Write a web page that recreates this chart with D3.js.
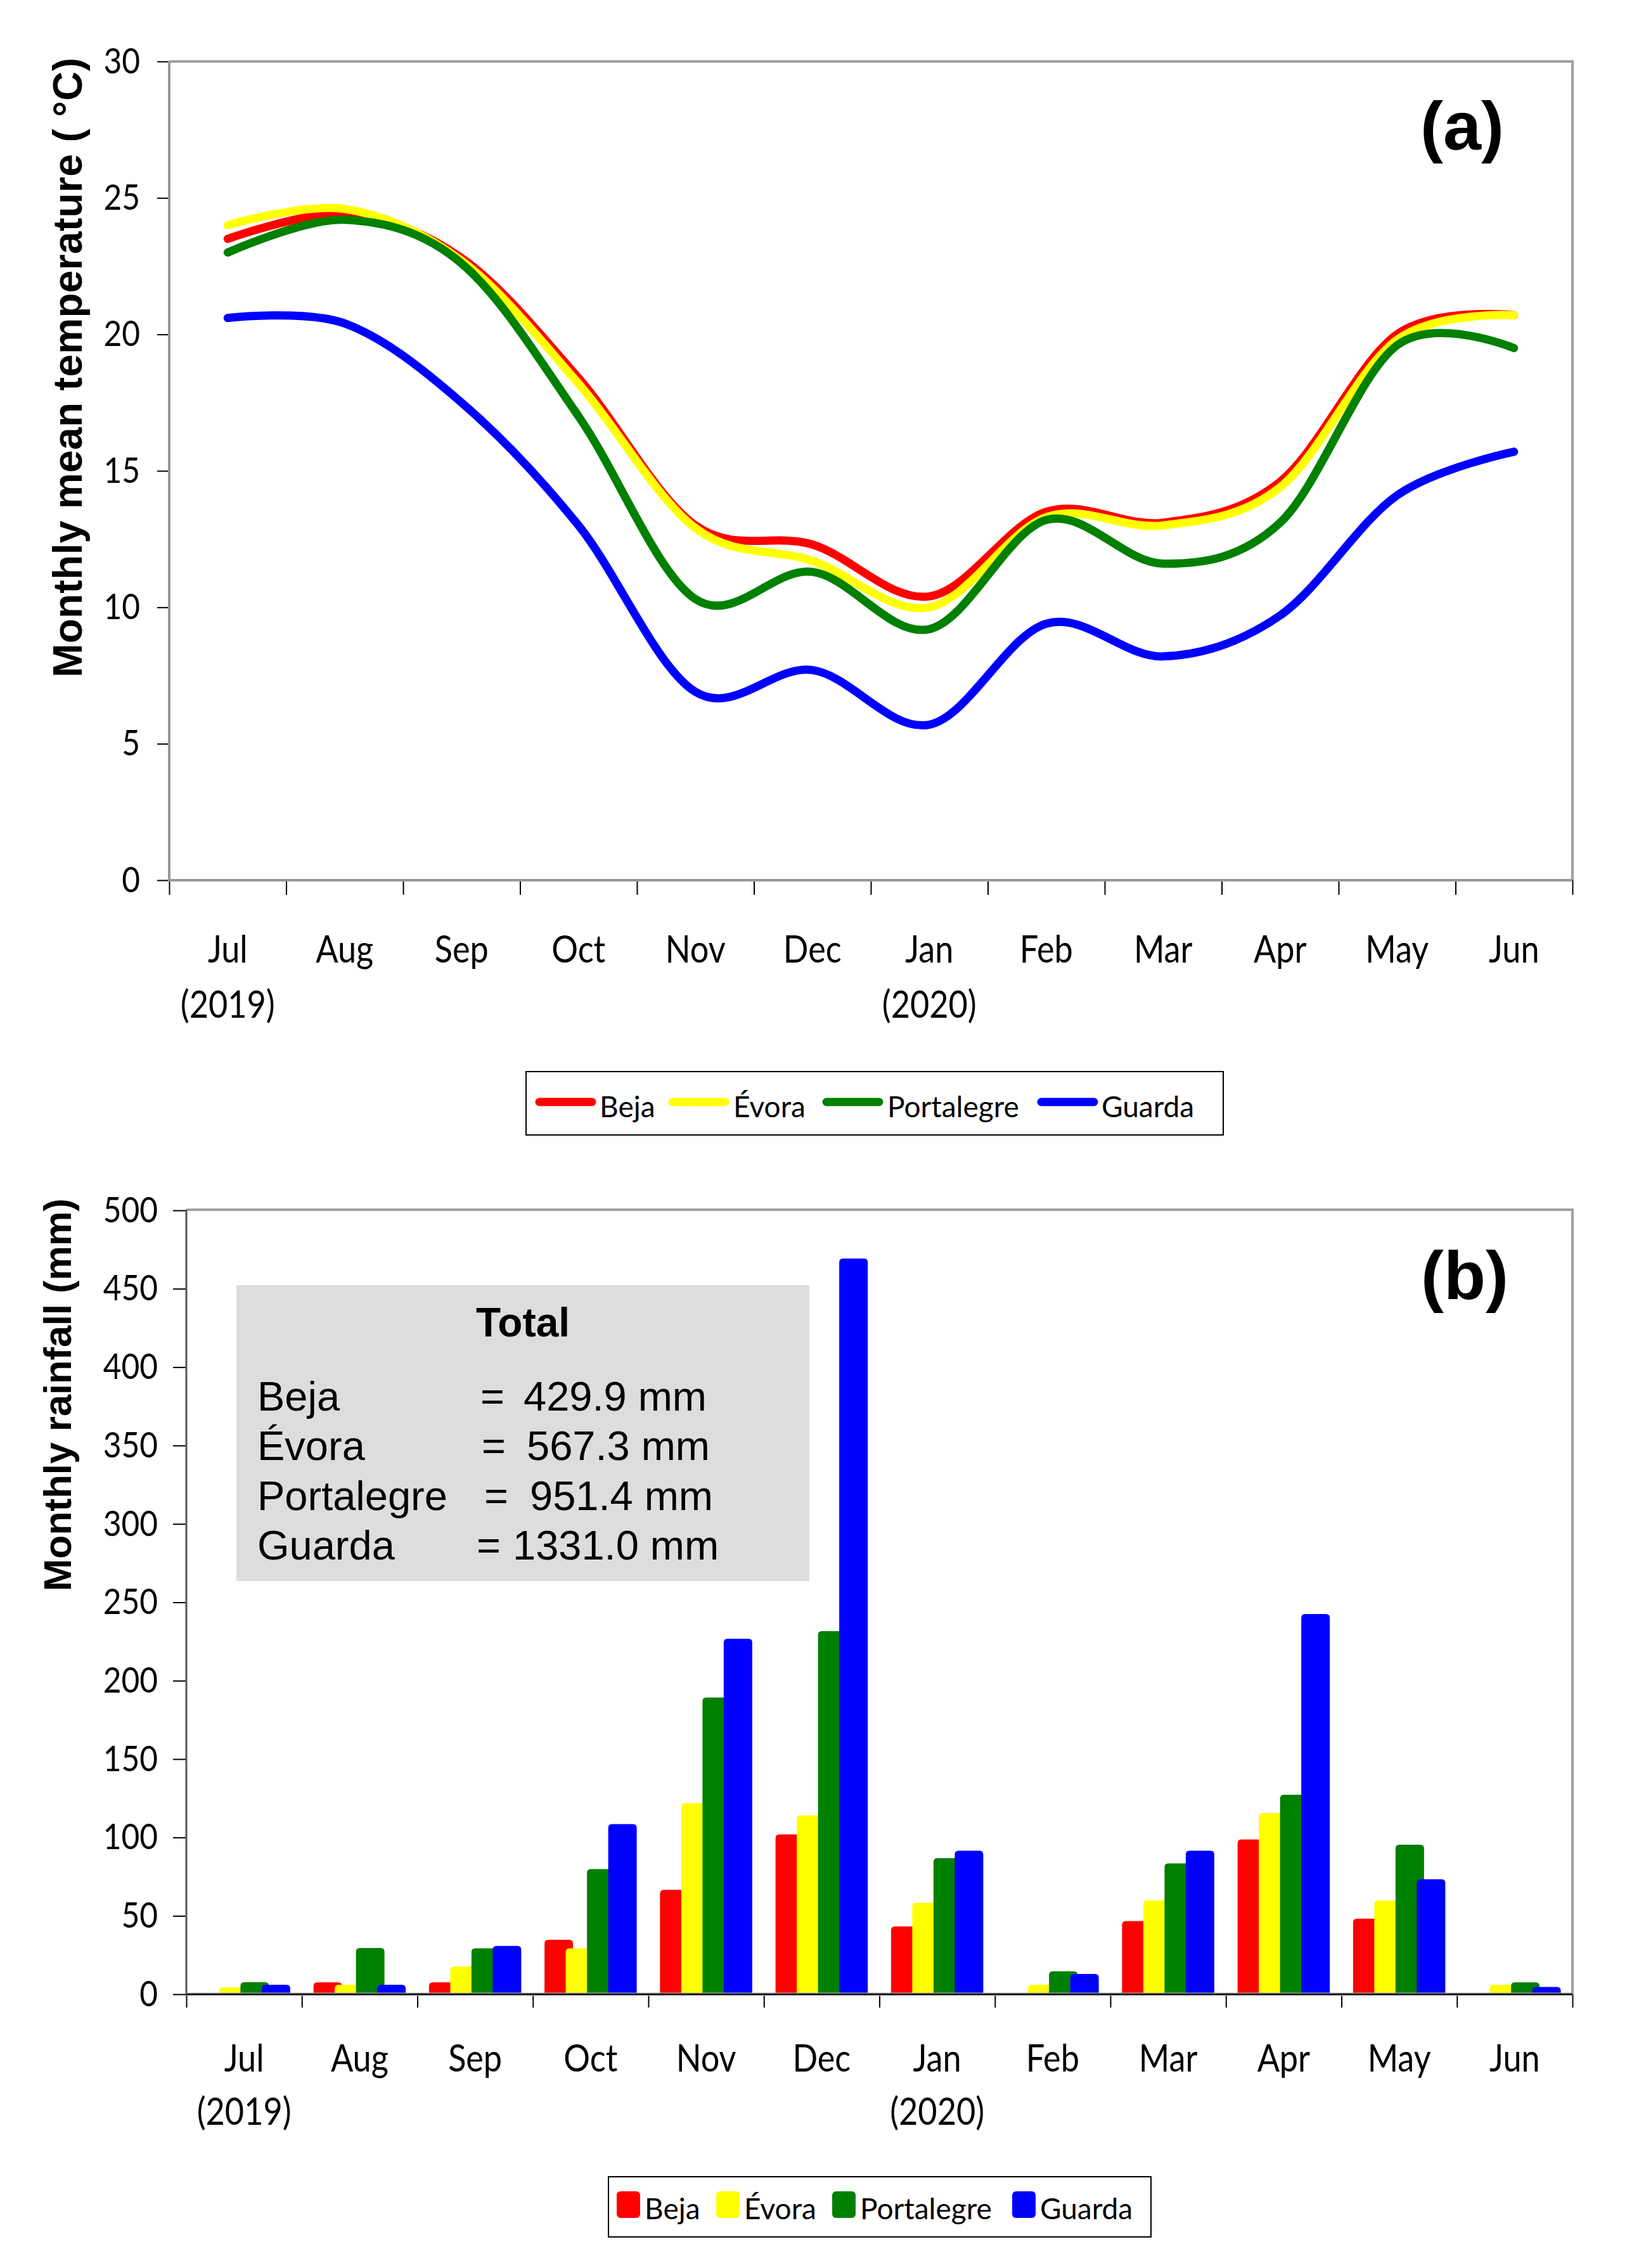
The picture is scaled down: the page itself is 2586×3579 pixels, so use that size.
<!DOCTYPE html>
<html>
<head>
<meta charset="utf-8">
<script src="https://cdn.jsdelivr.net/npm/d3@7"></script>
<style>
  body { margin: 0; background: #fff; }
</style>
</head>
<body>
<div id="chart"></div>
<script>
// ---- data ----
var months = ["Jul", "Aug", "Sep", "Oct", "Nov", "Dec", "Jan", "Feb", "Mar", "Apr", "May", "Jun"];
var yearLabels = [{month: "Jul", text: "(2019)"}, {month: "Jan", text: "(2020)"}];
var stations = ["Beja", "Évora", "Portalegre", "Guarda"];
var colors = ["#FF0000", "#FFFF00", "#008000", "#0000FF"];

// (a) monthly mean temperature (°C)
var tempBeja       = [23.5, 24.4, 22.8, 18.4, 13.0, 12.3, 10.4, 13.5, 13.1, 14.6, 20.0, 20.7];
var tempEvora      = [24.0, 24.6, 22.7, 18.2, 12.9, 11.7, 10.0, 13.3, 13.0, 14.4, 19.8, 20.7];
var tempPortalegre = [23.0, 24.2, 22.6, 17.0, 10.3, 11.3,  9.2, 13.2, 11.6, 13.1, 19.6, 19.5];
var tempGuarda     = [20.6, 20.4, 17.5, 13.0,  6.9,  7.7,  5.7,  9.4,  8.2,  9.7, 14.1, 15.7];

// (b) monthly rainfall (mm)
var rainBeja       = [0,   7.6,  7.6, 34.8,  66.6, 102.0, 43.2,  0,   46.7,  98.7, 48.2, 0];
var rainEvora      = [4.4, 6.1, 17.7, 29.3, 121.9, 114.1, 58.3,  6.1, 59.8, 115.6, 59.8, 6.1];
var rainPortalegre = [7.7, 29.5, 29.3, 79.8, 189.3, 231.6, 86.8, 14.7, 83.5, 127.2, 95.4, 7.6];
var rainGuarda     = [6.1, 6.1, 30.8, 108.5, 226.8, 469.3, 91.6, 12.9, 91.6, 242.5, 73.4, 4.6];
var rainTotals     = ["429.9", "567.3", "951.4", "1331.0"];

var tempTicks = [0, 5, 10, 15, 20, 25, 30];
var rainTicks = [0, 50, 100, 150, 200, 250, 300, 350, 400, 450, 500];

var tempSeries = [tempBeja, tempEvora, tempPortalegre, tempGuarda];
var rainSeries = [rainBeja, rainEvora, rainPortalegre, rainGuarda];

// ---- svg ----
var svg = d3.select("#chart").append("svg")
  .attr("width", 2586)
  .attr("height", 3579)
  .style("background", "#fff");

var tickFont = "Lato, 'Open Sans', sans-serif";
var titleFont = "'Liberation Sans', Arial, sans-serif";
var sx = 0.87;  // tick labels are a narrow face

// ================= Part (a): temperature =================
var A = {left: 267, right: 2481, top: 97, bottom: 1389};
var xA = d3.scaleLinear().domain([0, 12]).range([A.left, A.right]);
var yA = d3.scaleLinear().domain([0, 30]).range([A.bottom, A.top]);

// frame top / right
svg.append("path")
  .attr("d", `M${A.left},${A.top}H${A.right}V${A.bottom}`)
  .attr("fill", "none").attr("stroke", "#A0A0A0").attr("stroke-width", 4);

// lines
var lineA = d3.line()
  .x((d, i) => xA(i + 0.5))
  .y(d => yA(d))
  .curve(d3.curveCardinal.tension(0));

svg.selectAll(".tline")
  .data(tempSeries)
  .enter()
  .append("path")
  .attr("class", "tline")
  .attr("d", d => lineA(d))
  .attr("fill", "none")
  .attr("stroke", (d, i) => colors[i])
  .attr("stroke-width", 13)
  .attr("stroke-linecap", "round")
  .attr("stroke-linejoin", "round");

// y axis
var yAxisA = svg.append("g")
  .attr("transform", `translate(${A.left},0)`)
  .call(d3.axisLeft(yA).tickValues(tempTicks).tickSize(19).tickPadding(27));
yAxisA.select(".domain").remove();
yAxisA.selectAll(".tick line").attr("stroke", "#000").attr("stroke-width", 2);
yAxisA.selectAll(".tick text")
  .attr("x", -46 / sx)
  .attr("transform", `scale(${sx},1)`)
  .attr("font-family", tickFont)
  .attr("font-size", 57)
  .attr("fill", "#000");

// x axis ticks at month boundaries
var xAxisA = svg.append("g")
  .attr("transform", `translate(0,${A.bottom})`)
  .call(d3.axisBottom(xA).tickValues(d3.range(13)).tickSize(23).tickFormat(""));
xAxisA.select(".domain").remove();
xAxisA.selectAll(".tick line").attr("stroke", "#000").attr("stroke-width", 2);

// axis lines
svg.append("path")
  .attr("d", `M${A.left},${A.top}V${A.bottom}H${A.right}`)
  .attr("fill", "none").attr("stroke", "#999").attr("stroke-width", 4);

// month labels
svg.selectAll(".mA")
  .data(months)
  .enter()
  .append("text")
  .attr("class", "mA")
  .attr("transform", (d, i) => `translate(${xA(i + 0.5)},1519) scale(${sx},1)`)
  .attr("text-anchor", "middle")
  .attr("font-family", tickFont)
  .attr("font-size", 60)
  .text(d => d);

svg.selectAll(".yrA")
  .data(yearLabels)
  .enter()
  .append("text")
  .attr("class", "yrA")
  .attr("transform", d => `translate(${xA(months.indexOf(d.month) + 0.5)},1606) scale(${sx},1)`)
  .attr("text-anchor", "middle")
  .attr("font-family", tickFont)
  .attr("font-size", 60)
  .text(d => d.text);

// y title
svg.append("text")
  .attr("transform", "translate(129,580) rotate(-90)")
  .attr("text-anchor", "middle")
  .attr("font-family", titleFont)
  .attr("font-weight", "bold")
  .attr("font-size", 64)
  .attr("textLength", 978)
  .attr("lengthAdjust", "spacing")
  .text("Monthly mean temperature ( °C)");

// panel tag
svg.append("text")
  .attr("x", 2307).attr("y", 236)
  .attr("text-anchor", "middle")
  .attr("font-family", titleFont)
  .attr("font-weight", "bold")
  .attr("font-size", 108)
  .text("(a)");

// legend (a)
var legA = svg.append("g");
legA.append("rect")
  .attr("x", 830).attr("y", 1691).attr("width", 1100).attr("height", 100)
  .attr("fill", "#fff").attr("stroke", "#000").attr("stroke-width", 2);
var legAx = [851, 1061, 1304, 1643];
var legAt = [946, 1157, 1400, 1738];
stations.forEach(function (s, i) {
  legA.append("line")
    .attr("x1", legAx[i]).attr("x2", legAx[i] + 83)
    .attr("y1", 1739).attr("y2", 1739)
    .attr("stroke", colors[i]).attr("stroke-width", 13)
    .attr("stroke-linecap", "round");
  legA.append("text")
    .attr("x", legAt[i]).attr("y", 1763)
    .attr("font-family", tickFont)
    .attr("font-size", 46)
    .text(s);
});

// ================= Part (b): rainfall =================
var B = {left: 294, right: 2481, top: 1909, bottom: 3147};
var x0 = d3.scaleBand().domain(months).range([B.left, B.right]);
var xB = d3.scaleLinear().domain([0, 12]).range([B.left, B.right]);
var yB = d3.scaleLinear().domain([0, 500]).range([B.bottom, B.top + 1]);

svg.append("path")
  .attr("d", `M${B.left},${B.top}H${B.right}V${B.bottom}`)
  .attr("fill", "none").attr("stroke", "#A0A0A0").attr("stroke-width", 4);

// totals box
var box = svg.append("g");
box.append("rect")
  .attr("x", 373).attr("y", 2028).attr("width", 904).attr("height", 467)
  .attr("fill", "#DDDDDD");
box.append("text")
  .attr("x", 825).attr("y", 2109)
  .attr("text-anchor", "middle")
  .attr("font-family", titleFont)
  .attr("font-weight", "bold")
  .attr("font-size", 64)
  .text("Total");
var rowY = [2226, 2304, 2383, 2461];
var eqX = [761, 763, 767, 755];
var valX = [830, 835, 840, 813];
stations.forEach(function (s, i) {
  var t = box.append("g")
    .attr("font-family", titleFont)
    .attr("font-size", 65);
  t.append("text").attr("x", 406).attr("y", rowY[i]).text(s);
  t.append("text").attr("x", eqX[i] - 3).attr("y", rowY[i]).text("=");
  t.append("text").attr("x", valX[i] - 4).attr("y", rowY[i]).text(rainTotals[i] + " mm");
});

// bars
var barW = 45, barStep = 33.5;
var x1 = d3.scalePoint().domain(stations).range([0, 3 * barStep]);
var barOff = (x0.bandwidth() - (3 * barStep + barW)) / 2;

function roundTop(x, y, w, h, r) {
  r = Math.min(r, h, w / 2);
  return `M${x},${y + h}V${y + r}Q${x},${y} ${x + r},${y}H${x + w - r}Q${x + w},${y} ${x + w},${y + r}V${y + h}Z`;
}

rainSeries.forEach(function (vals, si) {
  svg.append("g")
    .selectAll("path")
    .data(vals.map((v, mi) => ({month: months[mi], value: v})).filter(d => d.value > 0))
    .enter()
    .append("path")
    .attr("d", d => roundTop(x0(d.month) + barOff + x1(stations[si]), yB(d.value), barW,
                             yB(0) - yB(d.value), 6))
    .attr("fill", colors[si]);
});

// y axis
var yAxisB = svg.append("g")
  .attr("transform", `translate(${B.left},0)`)
  .call(d3.axisLeft(yB).tickValues(rainTicks).tickSize(21).tickPadding(24));
yAxisB.select(".domain").remove();
yAxisB.selectAll(".tick line").attr("stroke", "#000").attr("stroke-width", 2);
yAxisB.selectAll(".tick text")
  .attr("x", -45 / sx)
  .attr("transform", `scale(${sx},1)`)
  .attr("font-family", tickFont)
  .attr("font-size", 57)
  .attr("fill", "#000");

var xAxisB = svg.append("g")
  .attr("transform", `translate(0,${B.bottom})`)
  .call(d3.axisBottom(xB).tickValues(d3.range(13)).tickSize(21).tickFormat(""));
xAxisB.select(".domain").remove();
xAxisB.selectAll(".tick line").attr("stroke", "#000").attr("stroke-width", 2);

// axis lines
svg.append("line")
  .attr("x1", B.left).attr("x2", B.left).attr("y1", B.top).attr("y2", B.bottom)
  .attr("stroke", "#555").attr("stroke-width", 3);
svg.append("line")
  .attr("x1", B.left).attr("x2", B.right).attr("y1", B.bottom).attr("y2", B.bottom)
  .attr("stroke", "#999").attr("stroke-width", 5);
svg.append("line")
  .attr("x1", B.left).attr("x2", B.right).attr("y1", B.bottom).attr("y2", B.bottom)
  .attr("stroke", "#000").attr("stroke-width", 2);

svg.selectAll(".mB")
  .data(months)
  .enter()
  .append("text")
  .attr("class", "mB")
  .attr("transform", d => `translate(${x0(d) + x0.bandwidth() / 2},3269) scale(${sx},1)`)
  .attr("text-anchor", "middle")
  .attr("font-family", tickFont)
  .attr("font-size", 60)
  .text(d => d);

svg.selectAll(".yrB")
  .data(yearLabels)
  .enter()
  .append("text")
  .attr("class", "yrB")
  .attr("transform", d => `translate(${x0(d.month) + x0.bandwidth() / 2},3353) scale(${sx},1)`)
  .attr("text-anchor", "middle")
  .attr("font-family", tickFont)
  .attr("font-size", 60)
  .text(d => d.text);

svg.append("text")
  .attr("transform", "translate(112,2201) rotate(-90)")
  .attr("text-anchor", "middle")
  .attr("font-family", titleFont)
  .attr("font-weight", "bold")
  .attr("font-size", 62)
  .attr("textLength", 620)
  .attr("lengthAdjust", "spacingAndGlyphs")
  .text("Monthly rainfall (mm)");

svg.append("text")
  .attr("x", 2311).attr("y", 2050)
  .attr("text-anchor", "middle")
  .attr("font-family", titleFont)
  .attr("font-weight", "bold")
  .attr("font-size", 108)
  .text("(b)");

// legend (b)
var legB = svg.append("g");
legB.append("rect")
  .attr("x", 960).attr("y", 3435).attr("width", 856).attr("height", 95)
  .attr("fill", "#fff").attr("stroke", "#000").attr("stroke-width", 2);
var legBx = [973, 1130, 1313, 1597];
var legBt = [1017, 1174, 1357, 1641];
stations.forEach(function (s, i) {
  legB.append("rect")
    .attr("x", legBx[i]).attr("y", 3458).attr("width", 37).attr("height", 42)
    .attr("rx", 6)
    .attr("fill", colors[i]);
  legB.append("text")
    .attr("x", legBt[i]).attr("y", 3502)
    .attr("font-family", tickFont)
    .attr("font-size", 46)
    .text(s);
});
</script>
</body>
</html>
